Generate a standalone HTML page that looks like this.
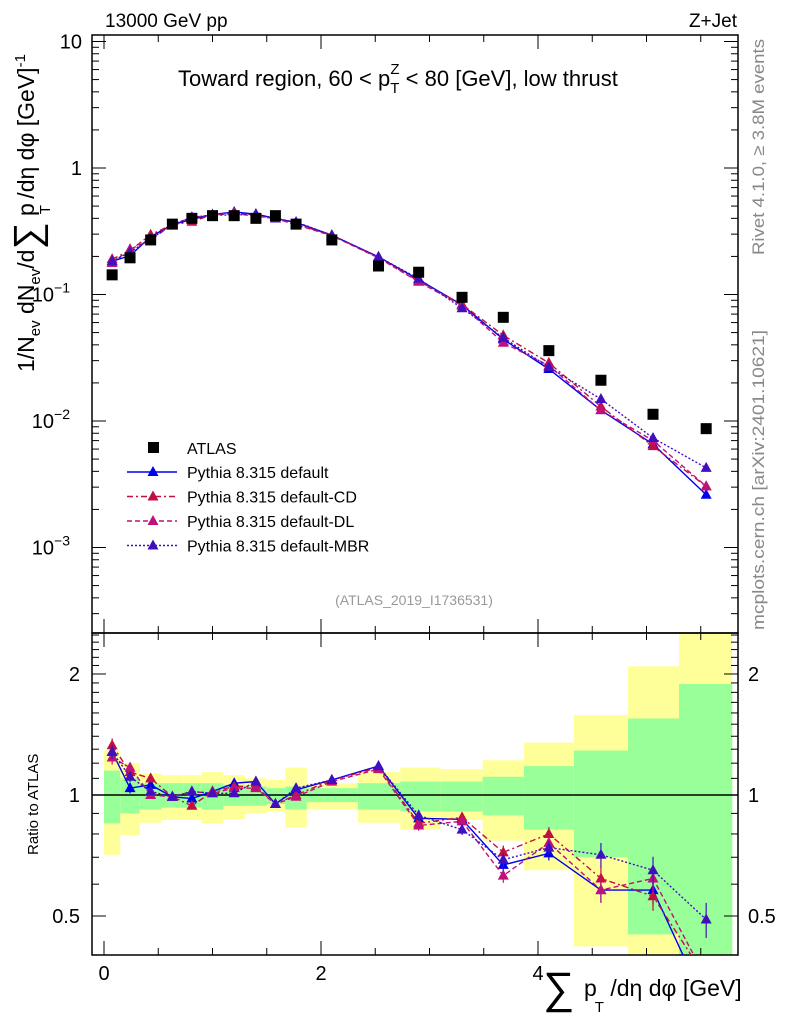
<!DOCTYPE html>
<html><head><meta charset="utf-8"><style>
body{margin:0;background:#fff}
svg{display:block;font-family:"Liberation Sans",sans-serif}
</style></head><body>
<svg id="c" width="786" height="1024" viewBox="0 0 786 1024" xmlns="http://www.w3.org/2000/svg">
<text x="105" y="27" font-size="19">13000 GeV pp</text>
<text x="737" y="27" font-size="19" text-anchor="end">Z+Jet</text>
<text x="178" y="86" font-size="22">Toward region, 60 &lt; p<tspan font-size="15" dy="7">T</tspan><tspan font-size="15" dx="-9" dy="-19">Z</tspan><tspan dy="12"> &lt; 80 [GeV], low thrust</tspan></text>
<text x="414" y="605" font-size="14" fill="#999" text-anchor="middle">(ATLAS_2019_I1736531)</text>
<text transform="translate(764,255) rotate(-90)" font-size="17" fill="#888" textLength="216" lengthAdjust="spacingAndGlyphs">Rivet 4.1.0, ≥ 3.8M events</text>
<text transform="translate(764,630) rotate(-90)" font-size="17" fill="#888" textLength="300" lengthAdjust="spacingAndGlyphs">mcplots.cern.ch [arXiv:2401.10621]</text>
<text transform="translate(34,372) rotate(-90)" font-size="23">1/N<tspan font-size="15" dy="6">ev</tspan><tspan dy="-6"> dN</tspan><tspan font-size="15" dy="6">ev</tspan><tspan dy="-6">/d</tspan><tspan font-size="38" dy="6">∑</tspan><tspan dy="-6"> p</tspan><tspan font-size="15" dx="-11" dy="16">T</tspan><tspan dy="-16"> /dη dφ  [GeV]</tspan><tspan font-size="15" dy="-9">-1</tspan></text>
<text transform="translate(38,855) rotate(-90)" font-size="15">Ratio to ATLAS</text>
<text x="543" y="1003" font-size="44">∑</text>
<text x="584" y="996" font-size="23">p<tspan font-size="15" dx="-2" dy="16">T</tspan><tspan dy="-16"> /dη dφ [GeV]</tspan></text>
<g id="bands"></g><g id="axes"></g><g id="marks"></g><g id="legend"></g>
</svg>
<script>
const xCenters=[0.075,0.24,0.43,0.63,0.81,1.0,1.2,1.4,1.58,1.77,2.1,2.53,2.9,3.3,3.68,4.1,4.58,5.06,5.55];
const binEdges=[0,0.15,0.33,0.53,0.73,0.9,1.1,1.3,1.5,1.67,1.87,2.34,2.73,3.1,3.49,3.87,4.33,4.83,5.3,5.79];
const atlas=[0.143,0.195,0.27,0.36,0.40,0.42,0.42,0.40,0.42,0.36,0.27,0.168,0.15,0.095,0.066,0.036,0.021,0.0113,0.0087];
const greenHi=[1.15,1.10,1.07,1.07,1.07,1.07,1.06,1.05,1.04,1.05,1.04,1.07,1.08,1.08,1.11,1.18,1.29,1.55,1.89];
const greenLo=[0.85,0.90,0.92,0.93,0.93,0.92,0.94,0.94,0.95,0.92,0.96,0.92,0.91,0.91,0.89,0.82,0.70,0.45,0.30];
const yellowHi=[1.29,1.20,1.13,1.12,1.12,1.14,1.12,1.10,1.09,1.17,1.07,1.14,1.17,1.16,1.22,1.35,1.58,2.09,3.0];
const yellowLo=[0.71,0.795,0.853,0.867,0.867,0.85,0.87,0.90,0.91,0.83,0.92,0.853,0.82,0.867,0.77,0.65,0.42,0.30,0.30];
const rDefault=[1.28,1.04,1.06,0.99,0.98,1.02,1.07,1.08,0.95,1.03,1.09,1.18,0.875,0.87,0.67,0.716,0.58,0.58,0.30];
const rCD=[1.33,1.14,1.10,0.99,0.94,1.02,1.05,1.05,0.95,1.0,1.09,1.17,0.85,0.88,0.72,0.80,0.62,0.56,0.35];
const rDL=[1.24,1.17,1.0,0.99,1.02,1.01,1.04,1.04,0.95,0.99,1.08,1.16,0.84,0.86,0.63,0.76,0.58,0.62,0.35];
const rMBR=[1.28,1.11,1.02,0.99,1.02,1.01,1.01,1.08,0.95,1.04,1.09,1.18,0.89,0.82,0.69,0.74,0.71,0.65,0.49];
const rErr=[0.04,0.03,0.02,0.02,0.02,0.02,0.02,0.02,0.02,0.02,0.02,0.02,0.03,0.03,0.04,0.04,0.07,0.08,0.1];
const mcSeries=[["pythia-default",rDefault,"#0000ee","","Pythia 8.315 default"],["pythia-default-cd",rCD,"#c01040","6,3,2,3","Pythia 8.315 default-CD"],["pythia-default-dl",rDL,"#c0107a","5,3","Pythia 8.315 default-DL"],["pythia-default-mbr",rMBR,"#4010c0","2,2","Pythia 8.315 default-MBR"]];
const xTicks=[0,2,4];
const mainTicks=[["10",1],["1",0],["10","-1"],["10","-2"],["10","-3"]];
const ratioTicks=[2,1,0.5];

const NS="http://www.w3.org/2000/svg";
const L=92,R=738,T=35,MB=633,RB=955;
const X=v=>104+v*108.5;
const Y=v=>168-126.5*Math.log10(v);
const YR=v=>795-402*Math.log10(v);
function el(tag,attrs,parent){const e=document.createElementNS(NS,tag);for(const k in attrs)e.setAttribute(k,attrs[k]);parent.appendChild(e);return e;}
const bands=document.getElementById('bands'),axes=document.getElementById('axes'),marks=document.getElementById('marks'),leg=document.getElementById('legend');
const clampR=v=>Math.max(MB,Math.min(RB,v));
for(let i=0;i<xCenters.length;i++){
 const x0=X(binEdges[i]),x1=Math.min(R,X(binEdges[i+1]));
 const y=el('rect',{x:x0,y:clampR(YR(yellowHi[i])),width:x1-x0,height:clampR(YR(yellowLo[i]))-clampR(YR(yellowHi[i])),fill:'#ffff99'},bands);
 
 
 const g=el('rect',{x:x0,y:clampR(YR(greenHi[i])),width:x1-x0,height:clampR(YR(greenLo[i]))-clampR(YR(greenHi[i])),fill:'#99ff99'},bands);
 
 
}
const f1=el('rect',{x:L,y:T,width:R-L,height:MB-T,fill:'none',stroke:'#000','stroke-width':1.5},axes);


const f2=el('rect',{x:L,y:MB,width:R-L,height:RB-MB,fill:'none',stroke:'#000','stroke-width':1.5},axes);


const one=el('line',{x1:L,x2:R,y1:YR(1),y2:YR(1),stroke:'#000','stroke-width':1.5},axes);


for(let d=-4;d<=1;d++)for(let m=1;m<10;m++){const v=m*Math.pow(10,d);const y=Y(v);if(y<T||y>MB)continue;const len=m==1?14:7;
 el('line',{x1:L,x2:L+len,y1:y,y2:y,stroke:'#000'},axes);el('line',{x1:R-len,x2:R,y1:y,y2:y,stroke:'#000'},axes);}
mainTicks.forEach((t,i)=>{const y=Y(Math.pow(10,1-i));const tx=el('text',{x:t[1]===1||t[1]===0?82:70,y:y+7,'font-size':20,'text-anchor':'end'},axes);tx.textContent=t[0];
 
 
 if(typeof t[1]==='string'){const s=el('tspan',{dy:-9,'font-size':14},tx);s.textContent='−'+t[1].slice(1);}});
for(let v=0.4;v<2.6;v+=0.1){const y=YR(v);if(y<MB||y>RB)continue;const maj=[0.5,1,2].some(a=>Math.abs(a-v)<1e-6);const len=maj?14:7;
 el('line',{x1:L,x2:L+len,y1:y,y2:y,stroke:'#000'},axes);el('line',{x1:R-len,x2:R,y1:y,y2:y,stroke:'#000'},axes);}
ratioTicks.forEach(v=>{const y=YR(v);
 const a=el('text',{x:80,y:y+7,'font-size':20,'text-anchor':'end'},axes);a.textContent=v;
 
 
 const b=el('text',{x:748,y:y+7,'font-size':20},axes);b.textContent=v;
 
 });
for(let v=0;v<=6;v+=0.5){const x=X(v);if(x>R)continue;const len=(v%2===0)?14:7;
 el('line',{x1:x,x2:x,y1:MB-len,y2:MB,stroke:'#000'},axes);el('line',{x1:x,x2:x,y1:T,y2:T+len,stroke:'#000'},axes);
 el('line',{x1:x,x2:x,y1:RB-len,y2:RB,stroke:'#000'},axes);el('line',{x1:x,x2:x,y1:MB,y2:MB+len,stroke:'#000'},axes);}
xTicks.forEach(v=>{const t=el('text',{x:X(v),y:980,'font-size':20,'text-anchor':'middle'},axes);t.textContent=v;
 
 });
function tri(x,y,c,p){const t=el('polygon',{points:`${x},${y-6} ${x-5.5},${y+4} ${x+5.5},${y+4}`,fill:c},p);return t;}
const clip=el('clipPath',{id:'cm'},marks);el('rect',{x:L,y:T,width:R-L,height:MB-T},clip);
const clip2=el('clipPath',{id:'cr'},marks);el('rect',{x:L,y:MB,width:R-L,height:RB-MB},clip2);
const gm=el('g',{'clip-path':'url(#cm)'},marks),gr=el('g',{'clip-path':'url(#cr)'},marks);
mcSeries.forEach(s=>{const [name,r,c,dash]=s;
 const main=r.map((v,i)=>v*atlas[i]);
 const pl=el('polyline',{points:main.map((v,i)=>X(xCenters[i])+','+Y(v)).join(' '),fill:'none',stroke:c,'stroke-width':1.4,'stroke-dasharray':dash},gm);
 
 
 const pr=el('polyline',{points:r.map((v,i)=>X(xCenters[i])+','+YR(v)).join(' '),fill:'none',stroke:c,'stroke-width':1.4,'stroke-dasharray':dash},gr);
 
 
 r.forEach((v,i)=>{const x=X(xCenters[i]);
  el('line',{x1:x,x2:x,y1:YR(v*(1+rErr[i])),y2:YR(v*(1-rErr[i])),stroke:c,'stroke-width':1.2},gr);
  const m=tri(x,Y(main[i]),c,gm);
  
  
  const m2=tri(x,YR(v),c,gr);
  
  });
});
atlas.forEach((v,i)=>{const q=el('rect',{x:X(xCenters[i])-5.5,y:Y(v)-5.5,width:11,height:11,fill:'#000'},gm);
 
 });
const la=el('rect',{x:148,y:442,width:11,height:11,fill:'#000'},leg);


const lt=el('text',{x:187,y:454,'font-size':16},leg);lt.textContent='ATLAS';


mcSeries.forEach((s,i)=>{const y=472+i*24.5;
 el('line',{x1:127,x2:177,y1:y,y2:y,stroke:s[2],'stroke-width':1.4,'stroke-dasharray':s[3]},leg);
 tri(153,y,s[2],leg);
 const t=el('text',{x:187,y:y+6,'font-size':16},leg);t.textContent=s[4];
 
 });
</script>
</body></html>
